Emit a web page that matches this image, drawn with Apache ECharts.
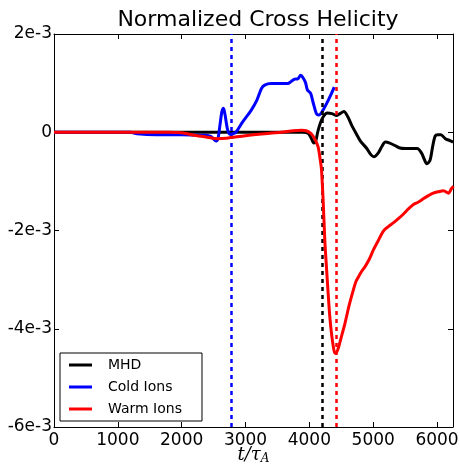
<!DOCTYPE html>
<html><head><meta charset="utf-8">
<script src="https://cdn.jsdelivr.net/npm/echarts@6/dist/echarts.min.js"></script>
<style>html,body{margin:0;padding:0;background:#fff}#c{width:460px;height:469px}</style>
</head><body><div id="c"></div>
<script>
// values in units of 1e-3
const xTicks = [0, 1000, 2000, 3000, 4000, 5000, 6000];
const yTicks = [-6, -4, -2, 0, 2];
const seriesNames = ['MHD', 'Cold Ions', 'Warm Ions'];
const vlineCold = 2775;
const vlineMHD = 4195;
const vlineWarm = 4415;
const mhd = [[0,0],[1000,0],[2000,0],[3000,0],[3900,0],[3980,-0.02],[4030,-0.12],[4070,-0.22],[4100,-0.18],[4130,0],[4170,0.18],[4220,0.32],[4280,0.39],[4350,0.38],[4430,0.34],[4480,0.38],[4540,0.42],[4600,0.32],[4660,0.15],[4730,-0.02],[4800,-0.18],[4900,-0.33],[4960,-0.45],[5010,-0.5],[5080,-0.42],[5140,-0.28],[5190,-0.2],[5260,-0.22],[5340,-0.27],[5420,-0.32],[5500,-0.33],[5620,-0.33],[5690,-0.33],[5760,-0.43],[5800,-0.55],[5840,-0.64],[5890,-0.57],[5930,-0.3],[5970,-0.08],[6010,-0.05],[6060,-0.05],[6130,-0.13],[6200,-0.17],[6250,-0.2]];
const cold = [[0,0],[1200,0],[1300,-0.03],[1600,-0.05],[2000,-0.05],[2300,-0.06],[2450,-0.08],[2540,-0.18],[2570,-0.12],[2600,0.15],[2630,0.42],[2655,0.49],[2680,0.35],[2720,0.05],[2760,-0.04],[2800,-0.03],[2850,0.0],[2950,0.2],[3090,0.45],[3180,0.66],[3250,0.89],[3300,0.96],[3400,0.99],[3550,0.99],[3660,0.99],[3720,1.04],[3770,1.08],[3820,1.09],[3865,1.16],[3900,1.11],[3940,1.01],[3970,0.86],[4020,0.79],[4060,0.6],[4110,0.38],[4150,0.35],[4200,0.42],[4295,0.65],[4390,0.92]];
const warm = [[0,0],[1000,0],[1800,0],[2000,-0.01],[2200,-0.06],[2400,-0.1],[2560,-0.13],[2700,-0.12],[3000,-0.07],[3300,-0.03],[3560,0.0],[3750,0.03],[3875,0.04],[3950,0.03],[4030,-0.03],[4090,-0.15],[4137,-0.3],[4170,-0.56],[4190,-0.76],[4216,-1.39],[4242,-2.2],[4270,-2.79],[4295,-3.29],[4320,-3.75],[4347,-4.1],[4375,-4.36],[4400,-4.5],[4430,-4.47],[4452,-4.4],[4500,-4.17],[4556,-3.9],[4620,-3.54],[4687,-3.22],[4730,-3.04],[4766,-2.95],[4820,-2.83],[4870,-2.74],[4940,-2.58],[5001,-2.4],[5070,-2.23],[5132,-2.07],[5180,-1.98],[5237,-1.92],[5320,-1.84],[5394,-1.76],[5470,-1.67],[5551,-1.56],[5630,-1.47],[5709,-1.42],[5790,-1.35],[5866,-1.29],[5940,-1.24],[6023,-1.21],[6100,-1.19],[6180,-1.24],[6220,-1.16],[6258,-1.1]];

const F = 'DejaVu Sans';
const chart = echarts.init(document.getElementById('c'), null, {renderer:'canvas'});
const axisCommon = {
  type:'value',
  axisLine:{show:true, onZero:false, lineStyle:{color:'#000', width:1}},
  splitLine:{show:false},
  axisTick:{show:true, inside:true, length:5, lineStyle:{color:'#000', width:1}}
};
function vline(x, color){
  return {symbol:'none', silent:true, label:{show:false},
    lineStyle:{color:color, type:[4,4], width:2.5},
    data:[{xAxis:x}]};
}
chart.setOption({
  animation:false,
  backgroundColor:'#fff',
  title:{text:'Normalized Cross Helicity', left:253, textAlign:'center', top:4,
    textStyle:{fontFamily:F, fontSize:22, fontWeight:'normal', color:'#000'}},
  grid:{left:54, right:7, top:34, bottom:42, containLabel:false, outerBoundsMode:'none'},
  legend:{orient:'vertical', left:60, top:353, data:seriesNames,
    backgroundColor:'#fff', borderColor:'#000', borderWidth:1, borderRadius:0,
    padding:[4,20,4,9], itemGap:6, itemWidth:23, itemHeight:3, icon:'rect',
    textStyle:{fontFamily:F, fontSize:14, color:'#000', lineHeight:16, padding:[0,0,0,11]}},
  xAxis:[
    Object.assign({}, axisCommon, {min:0, max:6250, interval:1000, position:'bottom',
      axisTick:Object.assign({}, axisCommon.axisTick, {customValues:xTicks}),
      axisLabel:{customValues:xTicks, fontFamily:F, fontSize:17, color:'#000', margin:5,
        formatter:v => String(v)},
      name:'{i|t/τ}{s|A}', nameLocation:'middle', nameGap:18, nameMoveOverlap:false,
      nameTextStyle:{rich:{i:{fontFamily:'DejaVu Serif', fontStyle:'italic', fontSize:18, color:'#000'},
        s:{fontFamily:'DejaVu Serif', fontStyle:'italic', fontSize:12, color:'#000', padding:[8,0,0,0]}}}}),
    Object.assign({}, axisCommon, {min:0, max:6250, interval:1000, position:'top',
      axisTick:Object.assign({}, axisCommon.axisTick, {customValues:xTicks}),
      axisLabel:{show:false}})
  ],
  yAxis:[
    Object.assign({}, axisCommon, {min:-6, max:2, interval:2, position:'left',
      axisLabel:{fontFamily:F, fontSize:17, color:'#000', margin:2,
        formatter:v => v === 0 ? '0' : v + 'e-3'}}),
    Object.assign({}, axisCommon, {min:-6, max:2, interval:2, position:'right',
      axisLabel:{show:false}})
  ],
  series:[
    {name:'MHD', type:'line', data:mhd, showSymbol:false, smooth:0.3, color:'#000',
      lineStyle:{width:3, color:'#000'}, z:3, markLine:vline(vlineMHD,'#000')},
    {name:'Cold Ions', type:'line', data:cold, showSymbol:false, smooth:0.3, color:'#0000ff',
      lineStyle:{width:3, color:'#0000ff'}, z:4, markLine:vline(vlineCold,'#0000ff')},
    {name:'Warm Ions', type:'line', data:warm, showSymbol:false, smooth:0.3, color:'#ff0000',
      lineStyle:{width:3, color:'#ff0000'}, z:5, markLine:vline(vlineWarm,'#ff0000')}
  ]
});
</script></body></html>
